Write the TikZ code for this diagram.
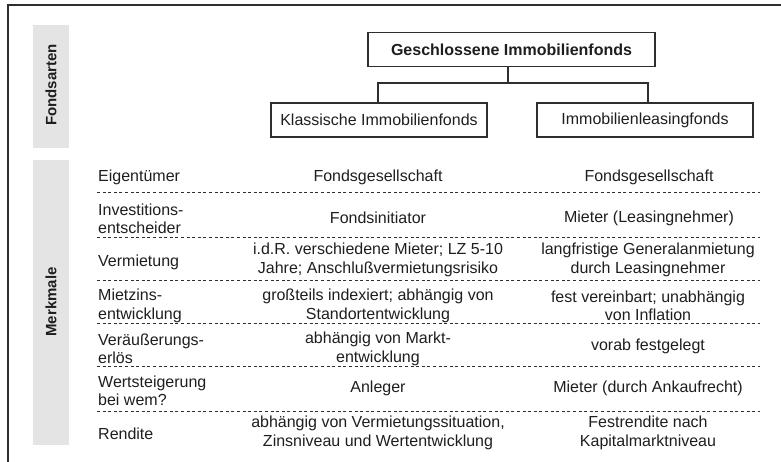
\documentclass[tikz,border=0pt]{standalone}
\usepackage{fontspec}
\setmainfont{Liberation Sans}
\begin{document}
\definecolor{ink}{HTML}{1E1E1E}
\definecolor{rule}{HTML}{2E2E2E}
\definecolor{band}{HTML}{E4E4E4}
\begin{tikzpicture}[x=1pt,y=-1pt,
  every node/.style={text=ink},
  txt/.style={inner sep=0pt,align=center,font=\fontsize{16}{18.5}\selectfont},
  lbl/.style={inner sep=0pt,align=left,anchor=west,font=\fontsize{16}{18.5}\selectfont},
  fundbox/.style={draw=rule,line width=1.1pt,inner sep=0pt,minimum height=34pt,
    font=\fontsize{16}{18.5}\selectfont},
  bandtxt/.style={inner sep=0pt,rotate=90,font=\fontsize{15}{17}\selectfont\bfseries},
  sep/.style={draw=rule,line width=0.8pt,dash pattern=on 3pt off 2.6pt},
  tree/.style={draw=rule,line width=1.1pt}]
\useasboundingbox (0,0) rectangle (781,462);

% outer frame (open to the right and bottom)
\draw[rule,line width=1.4pt] (8,462) -- (8,5) -- (781,5);

% side bands
\fill[band] (33,25) rectangle (69,148);
\fill[band] (33,160) rectangle (69,445);
\node[bandtxt] (fa) at (51,85) {Fondsarten};
\node[bandtxt] (mm) at (51,302) {Merkmale};

% fund types
\node[fundbox,minimum width=287pt,font=\fontsize{16}{18.5}\selectfont\bfseries] (gif) at (511.5,49.5) {Geschlossene Immobilienfonds};
\node[fundbox,minimum width=216pt] (kif) at (379,120) {Klassische Immobilienfonds};
\node[fundbox,minimum width=216pt] (ilf) at (645,120) {Immobilienleasingfonds};
\coordinate (branch) at (508,83);
\draw[tree] (gif.south -| branch) -- (branch);
\draw[tree] (branch) -| ([xshift=-1pt]kif.north);
\draw[tree] (branch) -| ([xshift=3pt]ilf.north);

% feature rows
\node[lbl] (l1) at (98,177) {Eigentümer};
\node[txt] (a1) at (378,177) {Fondsgesellschaft};
\node[txt] (b1) at (649,177) {Fondsgesellschaft};

\node[lbl] (l2) at (98,219) {Investitions-\\entscheider};
\node[txt] (a2) at (378,218) {Fondsinitiator};
\node[txt] (b2) at (649,218) {Mieter (Leasingnehmer)};

\node[lbl] (l3) at (98,262) {Vermietung};
\node[txt] (a3) at (378,260) {i.d.R. verschiedene Mieter; LZ 5-10\\Jahre; Anschlußvermietungsrisiko};
\node[txt] (b3) at (648,260) {langfristige Generalanmietung\\durch Leasingnehmer};

\node[lbl] (l4) at (98,306) {Mietzins-\\entwicklung};
\node[txt] (a4) at (378,306) {großteils indexiert; abhängig von\\Standortentwicklung};
\node[txt] (b4) at (648,306) {fest vereinbart; unabhängig\\von Inflation};

\node[lbl] (l5) at (98,349) {Veräußerungs-\\erlös};
\node[txt] (a5) at (378,349) {abhängig von Markt-\\entwicklung};
\node[txt] (b5) at (648,346) {vorab festgelegt};

\node[lbl] (l6) at (98,391) {Wertsteigerung\\bei wem?};
\node[txt] (a6) at (378,388) {Anleger};
\node[txt] (b6) at (648,388) {Mieter (durch Ankaufrecht)};

\node[lbl] (l7) at (98,434) {Rendite};
\node[txt] (a7) at (378,433) {abhängig von Vermietungssituation,\\Zinsniveau und Wertentwicklung};
\node[txt] (b7) at (648,433) {Festrendite nach\\Kapitalmarktniveau};

% dashed row separators
\foreach \yy in {192,237,280,323,366,411}
  \draw[sep] (97,\yy) -- (760,\yy);
\end{tikzpicture}
\end{document}
